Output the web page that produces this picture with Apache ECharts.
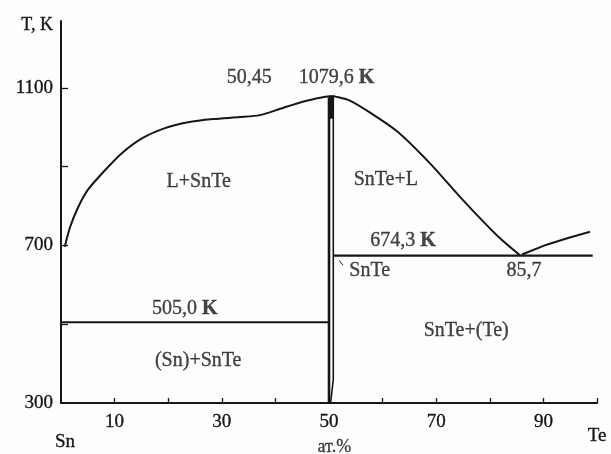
<!DOCTYPE html>
<html>
<head>
<meta charset="utf-8">
<script src="https://cdn.jsdelivr.net/npm/echarts@6/dist/echarts.min.js"></script>
<style>
  html, body { margin: 0; padding: 0; background: #fdfdfd; }
  #chart { width: 611px; height: 454px; }
</style>
</head>
<body>
<div id="chart"></div>
<script>
// Sn–Te phase diagram (composition in at.% Te, temperature in K)

const xTickValues = [10, 20, 30, 40, 50, 60, 70, 80, 90, 100];
const xLabelValues = [0, 10, 30, 50, 70, 90, 100];
const yTickValues = [500, 700, 900, 1100];
const yLabelValues = [300, 700, 1100];

// Liquidus on the Sn side, up to the congruent maximum of SnTe
const liquidusSn = [
  [0.7, 697], [1.7, 747], [3.2, 797], [5.0, 841], [8.2, 891], [11.4, 935],
  [15.1, 972], [19.4, 998], [23.7, 1013], [28.4, 1021], [33.4, 1026],
  [37.1, 1031], [40.9, 1047], [45.1, 1065], [48.6, 1076], [50.45, 1079.6]
];
// Liquidus from the maximum down to the eutectic on the Te side
const liquidusSnTe = [
  [50.45, 1079.6], [51.2, 1078], [53.9, 1068], [57.6, 1038], [62.7, 990],
  [68.8, 909], [75.0, 815], [81.3, 726], [85.7, 674.3]
];
// Liquidus of tellurium
const liquidusTe = [[86.0, 677], [90.6, 702], [94.6, 719], [98.7, 735]];

// Invariant horizontals
const eutecticSn = [[0, 505.0], [50.0, 505.0]];
const eutecticTe = [[50.75, 674.3], [99.2, 674.3]];

// SnTe homogeneity range boundaries
const snteLeft = [[50.0, 300], [50.0, 1076]];
const snteRight = [[50.3, 300], [50.8, 360], [50.8, 1077]];
const snteTop = [[50.45, 1022], [50.45, 1079.6]];

// Leader mark pointing at the SnTe boundary
const snteLeader = [[51.9, 662], [52.6, 650]];

// Text annotations: [x, T, text]
const annotations = [
  [35.1, 1125, '50,45'],
  [51.4, 1125, '1079,6 {b|K}'],
  [25.7, 862, 'L+SnTe'],
  [60.6, 866, 'SnTe+L'],
  [63.8, 711, '674,3 {b|K}'],
  [57.6, 635, 'SnTe'],
  [86.4, 635, '85,7'],
  [23.1, 539, '505,0 {b|K}'],
  [25.6, 407, '(Sn)+SnTe'],
  [75.6, 483, 'SnTe+(Te)'],
  [51.0, 188, '{u|ат.%}']
];

const ink = '#161616';
const serif = '"Liberation Serif", "Times New Roman", serif';
const textHalo = { textBorderColor: ink, textBorderWidth: 0.35 };

function lineSeries(data, width, smooth) {
  return {
    type: 'line',
    data: data,
    showSymbol: false,
    symbol: 'none',
    smooth: smooth || false,
    lineStyle: { color: ink, width: width },
    silent: true,
    animation: false,
    z: 3
  };
}

const chart = echarts.init(document.getElementById('chart'), null, { renderer: 'canvas' });

chart.setOption({
  backgroundColor: '#fdfdfd',
  animation: false,
  grid: { left: 61, right: 14, top: 21, bottom: 51, containLabel: false, outerBoundsMode: 'none' },
  xAxis: {
    type: 'value',
    min: 0,
    max: 100,
    interval: 10,
    axisLine: { show: true, onZero: false, lineStyle: { color: ink, width: 2 } },
    axisTick: {
      show: true, inside: true, length: 5,
      customValues: xTickValues,
      lineStyle: { color: ink, width: 1.3 }
    },
    axisLabel: {
      show: true,
      margin: 10,
      customValues: xLabelValues,
      fontFamily: serif,
      fontSize: 19,
      color: ink,
      ...textHalo,
      formatter: function (v) {
        if (v === 0) return '{sn|Sn}';
        if (v === 100) return '{te|Te}';
        return String(v);
      },
      rich: {
        sn: { fontFamily: serif, fontSize: 19, color: ink, ...textHalo, padding: [20, 0, 0, 8] },
        te: { fontFamily: serif, fontSize: 19, color: ink, ...textHalo, padding: [14, 0, 0, 0] }
      }
    },
    splitLine: { show: false }
  },
  yAxis: {
    type: 'value',
    min: 300,
    max: 1270,
    interval: 100,
    name: 'T, K',
    nameLocation: 'end',
    nameGap: -4,
    nameTextStyle: {
      fontFamily: serif, fontSize: 18, color: ink, ...textHalo,
      align: 'right', verticalAlign: 'middle', padding: [0, 8, 0, 0]
    },
    axisLine: { show: true, onZero: false, lineStyle: { color: ink, width: 2 } },
    axisTick: {
      show: true, inside: true, length: 7,
      customValues: yTickValues,
      lineStyle: { color: ink, width: 1.3 }
    },
    axisLabel: {
      show: true,
      margin: 8,
      customValues: yLabelValues,
      formatter: v => String(v),
      fontFamily: serif,
      fontSize: 19,
      color: ink,
      ...textHalo
    },
    splitLine: { show: false }
  },
  series: [
    lineSeries(liquidusSn, 2, 0.25),
    lineSeries(liquidusSnTe, 2, 0.25),
    lineSeries(liquidusTe, 2),
    lineSeries(eutecticSn, 2.2),
    lineSeries(eutecticTe, 2.4),
    lineSeries(snteLeft, 2.6),
    lineSeries(snteRight, 1.6),
    lineSeries(snteTop, 5),
    lineSeries(snteLeader, 1),
    {
      type: 'scatter',
      data: annotations.map(a => ({ value: [a[0], a[1]], name: a[2] })),
      symbolSize: 0,
      clip: false,
      silent: true,
      animation: false,
      z: 5,
      label: {
        show: true,
        position: 'inside',
        formatter: p => p.name,
        fontFamily: serif,
        fontSize: 20,
        color: ink,
        ...textHalo,
        rich: {
          b: { fontFamily: serif, fontSize: 20, fontWeight: 'bold', color: ink },
          u: { fontFamily: serif, fontSize: 18, color: ink, ...textHalo }
        }
      }
    }
  ]
});
</script>
</body>
</html>
